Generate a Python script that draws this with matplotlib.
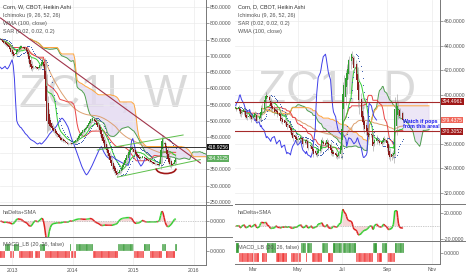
import numpy as np
import pandas as pd
import matplotlib
matplotlib.use("Agg")
import matplotlib.pyplot as plt
import matplotlib.dates as mdates
from matplotlib.collections import LineCollection
from matplotlib.patches import Arc, Rectangle
from matplotlib.lines import Line2D

plt.rcParams['font.family'] = ['Liberation Sans', 'DejaVu Sans']

# ==============================
# data: weekly chart (left)
# ==============================
w_start = "2012-10-22"
w_close = [
    752, 748, 744, 740, 738,
    735, 730, 726, 720,
    712, 705, 700, 703,
    710, 718, 722, 726, 730,
    732, 728, 724, 720, 715, 705,
    690, 675, 665, 660, 662,
    665, 668, 662, 660, 665, 672, 680, 688,
    670, 630, 560, 500,
    490, 485, 480, 478, 472, 468, 462, 458,
    455, 450, 446, 442, 440, 438, 436, 433, 430,
    428, 430, 432, 428, 430, 434, 438,
    442, 447, 452, 458, 462, 466, 470, 474, 478, 482,
    488, 494, 500, 505, 508, 505,
    500, 495, 488, 482, 472, 460, 448, 438, 430,
    420, 410, 400, 390, 380, 370, 360, 352, 345, 338, 333,
    336, 342, 348, 355, 362, 370, 378, 386, 394, 402, 410, 416, 420,
    412, 404, 398, 392, 388, 385, 383, 386, 390,
    388, 385, 382, 380, 378, 376, 374, 372, 370, 368, 366, 365, 364, 362,
    372, 410, 438, 445,
    432, 415, 398, 382, 372, 366,
    360, 364, 370, 378, 384.3125,
]
w_macd_sign = [-1, 1, -1, 1, -1, 0, -1, 1, -1, 1, -1, 1, -1, 1, -1, 1, -1, 1, -1, 1]
w_macd_len = [4, 4, 4, 4, 12, 2, 4, 4, 22, 1, 4, 15, 21, 14, 9, 5, 10, 4, 7, 2]
w_level = 418.9256
# drawings on weekly chart: (date, price) anchors
w_trend_dates = ["2012-10-22", "2016-02-10"]
w_trend_prices = [817, 369.5]
w_up_dates = ["2014-05-29", "2015-10-29"]
w_up_prices = [409.6, 456]
w_lo_dates = ["2014-09-27", "2016-02-10"]
w_lo_prices = [326, 380]
w_level_from = "2013-04-20"

# ==============================
# data: daily chart (right)
# ==============================
d_start = "2015-02-05"
d_close = [
    389, 388,
    390, 387, 385, 384, 386,
    388, 386, 383, 382, 381,
    383, 384, 382, 380, 381,
    383, 385, 384, 381, 379,
    380, 382, 386, 389, 391,
    393, 396, 399, 400, 398,
    396, 393, 391, 389, 388,
    386, 387, 388, 386, 384,
    383, 381, 379, 380, 378,
    377, 378, 376, 374, 375,
    373, 371, 369, 367, 365,
    366, 364, 363, 362, 364,
    365, 366, 364, 362, 360,
    361, 363, 362, 359, 357,
    358, 359, 356, 354, 352,
    353, 352, 351, 354, 356,
    358, 361, 363, 362, 360,
    359, 361, 363, 360, 357,
    355, 353, 352, 354, 352,
    351, 350, 349, 351, 353,
    358, 372, 389, 401, 408,
    414, 418, 421, 425, 428,
    431, 433, 430, 426, 422,
    418, 412, 404, 396, 390,
    386, 382, 378, 375, 372,
    370, 368, 367, 366, 368,
    367, 364, 358, 360, 363,
    365, 364, 363, 362, 361,
    360, 362, 364, 365, 363,
    361, 357, 354, 351, 349,
    349, 351, 353, 370, 388,
    393, 391, 388, 386, 383,
    382, 379.4375,
]
d_macd_sign = [1, -1, 0, -1, 1, -1, 0, -1, 1, -1, 1, -1, 1, -1, 1, -1, 1, -1, 1, -1, 1]
d_macd_len = [3, 19, 4, 5, 8, 11, 4, 10, 5, 1, 5, 9, 7, 5, 21, 17, 3, 6, 4, 9, 9]
d_levels = [394.4961, 370.3052]
d_box_dates = ["2015-09-14", "2015-10-27"]

W, H = 466, 275
UP, DN = "#2e9e2e", "#8a1c1c"


def heikin(close):
    c = np.asarray(close, float)
    o = np.empty_like(c)
    o[0] = c[0]
    for i in range(1, len(c)):
        o[i] = (o[i - 1] + c[i - 1]) / 2
    return o, c


def midline(hi, lo, n):
    return (pd.Series(hi).rolling(n, min_periods=1).max()
            + pd.Series(lo).rolling(n, min_periods=1).min()).values / 2


def wma(c, n=100):
    out = np.empty(len(c))
    for i in range(len(c)):
        seg = c[max(0, i - n + 1):i + 1]
        w = np.arange(1, len(seg) + 1)
        out[i] = (seg * w).sum() / w.sum()
    return out


def psar(hi, lo, start=0.02, inc=0.02, top=0.2):
    n = len(hi)
    sar = np.zeros(n)
    bull, af, ep = False, start, lo[0]
    sar[0] = hi[0]
    for i in range(1, n):
        s = sar[i - 1] + af * (ep - sar[i - 1])
        if bull:
            s = min(s, lo[i - 1], lo[max(i - 2, 0)])
            if lo[i] < s:
                bull, s, ep, af = False, ep, lo[i], start
            elif hi[i] > ep:
                ep, af = hi[i], min(af + inc, top)
        else:
            s = max(s, hi[i - 1], hi[max(i - 2, 0)])
            if hi[i] > s:
                bull, s, ep, af = True, ep, hi[i], start
            elif lo[i] < ep:
                ep, af = lo[i], min(af + inc, top)
        sar[i] = s
    return sar


def px_axes(fig, x0, y0, x1, y1):
    return fig.add_axes([x0 / W, 1 - y1 / H, (x1 - x0) / W, (y1 - y0) / H])


def style(ax, top=True, bottom=False):
    ax.spines["left"].set_visible(False)
    ax.spines["top"].set_visible(top)
    ax.spines["bottom"].set_visible(bottom)
    for s in ["top", "right", "bottom"]:
        ax.spines[s].set_color("#777777")
        ax.spines[s].set_linewidth(0.7)
    ax.yaxis.tick_right()
    ax.tick_params(axis="y", labelsize=3.7, length=2, width=0.4, pad=1,
                   colors="#555555")
    ax.tick_params(axis="x", labelsize=3.7, length=0, pad=2, colors="#555555")
    ax.yaxis.set_major_formatter(plt.FuncFormatter(lambda v, p: f"{v:.4f}"))
    ax.set_facecolor("white")


def tag(ax, v, fc, tc="white"):
    ax.annotate(f"{v:.4f}", xy=(1, v), xycoords=("axes fraction", "data"),
                xytext=(1.2, 0), textcoords="offset points", fontsize=3.6,
                color=tc, va="center", ha="left", annotation_clip=False,
                bbox=dict(boxstyle="square,pad=0.18", fc=fc, ec="none"))


def gaps(dates):
    x = mdates.date2num(dates)
    d = np.diff(x)
    return np.append(d, d[-1])


def chart(fig, box, dates, ext, close, bar_w, macd_sign, macd_len, hd_lim, hd_ticks, xticks, xfmt,
          ylim, yticks, hidden, titles, mark):
    x0, x1, yp, yh, ym = box
    axp = px_axes(fig, x0, 0, x1, yp)
    axh = px_axes(fig, x0, yp, x1, yh)
    axm = px_axes(fig, x0, yh, x1, ym)
    style(axp, top=False)
    style(axh)
    style(axm, bottom=True)

    o, c = heikin(close)
    hi, lo = np.maximum(o, c), np.minimum(o, c)
    n = len(c)
    tenkan = midline(hi, lo, 9)
    kijun = midline(hi, lo, 26)
    span_a = (tenkan + kijun) / 2
    span_b = midline(hi, lo, 52)
    fut = ext[26:26 + n]

    # watermark
    axp.text(0.5, mark[1], mark[0], transform=axp.transAxes, ha="center", va="baseline",
             fontsize=33, color="#dadada", zorder=0)
    axp.text(0.5, mark[2], "Corn", transform=axp.transAxes, ha="center", va="baseline",
             fontsize=11, color="#e4e4e4", zorder=0)

    axp.fill_between(fut, span_a, span_b, color="#e3d9f0", alpha=0.8, lw=0, zorder=1)
    axp.plot(fut, span_a, color="#4f9f4f", lw=0.7, zorder=2)
    axp.plot(fut, span_b, color="#ffa53c", lw=0.7, zorder=2)
    axp.plot(dates, wma(c), color="#dca070", lw=0.7, zorder=2)
    axp.plot(dates, kijun, color="#e84545", lw=0.7, zorder=2)
    axp.plot(dates, tenkan, color="#33cc33", lw=0.7, zorder=2)
    axp.plot(dates[:-26], c[26:], color="#3f3fe8", lw=0.7, zorder=2)
    sar = psar(hi, lo)
    axp.scatter(dates, sar, s=0.5, color="#3a5bb0", lw=0, zorder=3)

    cols = [UP if cc >= oo else DN for oo, cc in zip(o, c)]
    axp.vlines(dates, lo - (hi - lo) * 0.35 - 1, hi + (hi - lo) * 0.35 + 1, color="#999999",
               lw=0.4, zorder=3)
    axp.bar(dates, np.maximum(hi - lo, 0.8), bottom=lo, width=bar_w, color=cols, lw=0, zorder=4)

    axp.set_ylim(*ylim)
    axp.set_yticks([t for t in yticks if t not in hidden])
    axp.grid(color="#ebebeb", lw=0.5, zorder=0)
    for t in hidden:
        axp.axhline(t, color="#ebebeb", lw=0.5, zorder=0)
    axp.tick_params(axis="x", labelbottom=False)

    for k, t in enumerate(titles):
        axp.text(0.015, 1 - (7 + 8.3 * k) / yp, t, transform=axp.transAxes, fontsize=4,
                 color="#333333" if k == 0 else "#555555", va="center", ha="left", zorder=6)

    # haDelta + SMA
    delta = c - o
    sma = pd.Series(delta).rolling(2, min_periods=1).mean().values
    xs = mdates.date2num(dates)
    pts = np.column_stack([xs, sma])
    segs = np.stack([pts[:-1], pts[1:]], axis=1)
    segc = ["#2fd12f" if b >= a else "#dd2020" for a, b in zip(sma[:-1], sma[1:])]
    axh.fill_between(dates, sma, 0, color="#f2c6c6", alpha=0.7, lw=0)
    axh.add_collection(LineCollection(segs, colors=segc, lw=1.1))
    axh.axhline(0, color="#999999", lw=0.5, ls=(0, (1, 1.5)))
    axh.set_ylim(*hd_lim)
    axh.set_yticks(hd_ticks)
    axh.grid(axis="x", color="#ebebeb", lw=0.5)
    axh.tick_params(axis="x", labelbottom=False)
    axh.text(0.015, 0.78, "haDelta+SMA", transform=axh.transAxes, fontsize=4, color="#555555",
             va="center")

    # MACD_LB signal
    sig = np.repeat(macd_sign, macd_len).astype(float)
    sig = np.concatenate([sig, np.full(max(0, n - len(sig)), sig[-1])])[:n]
    mcol = ["#3a9c3a" if s > 0 else "#f03c3c" for s in sig]
    axm.bar(mdates.date2num(dates), sig, width=gaps(dates), align="edge", color=mcol,
            edgecolor="white", lw=0.15)
    axm.set_ylim(-1.9, 1.9)
    axm.set_yticks([0])
    axm.grid(axis="x", color="#ebebeb", lw=0.5)
    axm.text(0.015, 0.72, "MACD_LB (20, 26, false)", transform=axm.transAxes, fontsize=4,
             color="#555555", va="center")

    for a in (axp, axh, axm):
        a.set_xlim(*xticks[0])
        a.set_xticks(pd.to_datetime(xticks[1]))
    axm.xaxis.set_major_formatter(mdates.DateFormatter(xfmt))
    return axp, axh, axm, c


fig = plt.figure(figsize=(W / 100, H / 100), dpi=100)
fig.patch.set_facecolor("white")

# ---------------- left: weekly ----------------
wd = pd.date_range(w_start, periods=len(w_close), freq="7D")
wext = pd.date_range(w_start, periods=len(w_close) + 26, freq="7D")
lp, lh, lm, wc = chart(
    fig, (0, 206, 205, 237, 265), wd, wext, w_close, 6.0,
    w_macd_sign, w_macd_len, (-75, 75), [0],
    ((pd.Timestamp("2012-10-19"), pd.Timestamp("2016-03-15")),
     ["2013-01-01", "2014-01-01", "2015-01-01", "2016-01-01"]), "%Y",
    (240, 872.5), np.arange(250, 851, 50), [400],
    ["Corn, W, CBOT, Heikin Ashi", "Ichimoku (9, 26, 52, 26)", "WMA (100, close)",
     "SAR (0.02, 0.02, 0.2)"],
    ("ZC1!, W", 0.478, 0.355))
lm.set_ylim(-2, 2)

lp.plot(pd.to_datetime(w_trend_dates), w_trend_prices, color="#a0344a", lw=0.8, zorder=5)
lp.plot(pd.to_datetime(w_up_dates), w_up_prices, color="#5cbf4a", lw=0.7, zorder=5)
lp.plot(pd.to_datetime(w_lo_dates), w_lo_prices, color="#5cbf4a", lw=0.7, zorder=5)
lp.plot([pd.Timestamp(w_level_from), pd.Timestamp("2016-03-15")], [w_level, w_level],
        color="#333333", lw=0.7, zorder=5)
lp.add_patch(Arc((mdates.date2num(pd.Timestamp("2015-07-18")), 352.6), 120, 31,
                 theta1=180, theta2=360, color="#a01818", lw=1.2, zorder=6))
tag(lp, w_level, "#111111")
tag(lp, wc[-1], "#5fae5f")

# ---------------- right: daily ----------------
dd = pd.bdate_range(d_start, periods=len(d_close))
dext = pd.bdate_range(d_start, periods=len(d_close) + 26)
rp, rh, rm, dc = chart(
    fig, (235, 440, 204, 241, 264), dd, dext, d_close, 1.3,
    d_macd_sign, d_macd_len, (-23, 33), [-20, 20],
    ((pd.Timestamp("2015-02-04"), pd.Timestamp("2015-11-12")),
     ["2015-03-01", "2015-05-01", "2015-07-01", "2015-09-01", "2015-11-01"]), "%b",
    (311.1, 477.1), np.arange(320, 461, 20), [380],
    ["Corn, D, CBOT, Heikin Ashi", "Ichimoku (9, 26, 52, 26)", "SAR (0.02, 0.02, 0.2)",
     "WMA (100, close)"],
    ("ZC1!, D", 0.495, 0.34))
rm.set_ylim(-1.2, 1.22)

rp.add_patch(Rectangle((mdates.date2num(pd.Timestamp(d_box_dates[0])), d_levels[1]),
                       (pd.Timestamp(d_box_dates[1]) - pd.Timestamp(d_box_dates[0])).days,
                       d_levels[0] - d_levels[1], color="#ece6f6", lw=0, zorder=1))
for lv in d_levels:
    rp.axhline(lv, color="#a52a2a", lw=0.8, zorder=5)
rp.text(pd.Timestamp("2015-09-22"), 376, "Watch if pops\nfrom this area!", fontsize=3.8,
        color="#1a1aee", fontweight="bold", va="center", ha="left", linespacing=1.0, zorder=7)
tag(rp, d_levels[0], "#a01818")
tag(rp, dc[-1], "#f0675a")
tag(rp, d_levels[1], "#a01818")

# full-width pane separators
for (xa, xb, ys) in [(0, 232, [205, 237]), (235, 466, [204, 241])]:
    for y in ys:
        fig.add_artist(Line2D([xa / W, xb / W], [1 - y / H] * 2, color="#777777", lw=0.7))

fig.savefig("out.png", dpi=100)
